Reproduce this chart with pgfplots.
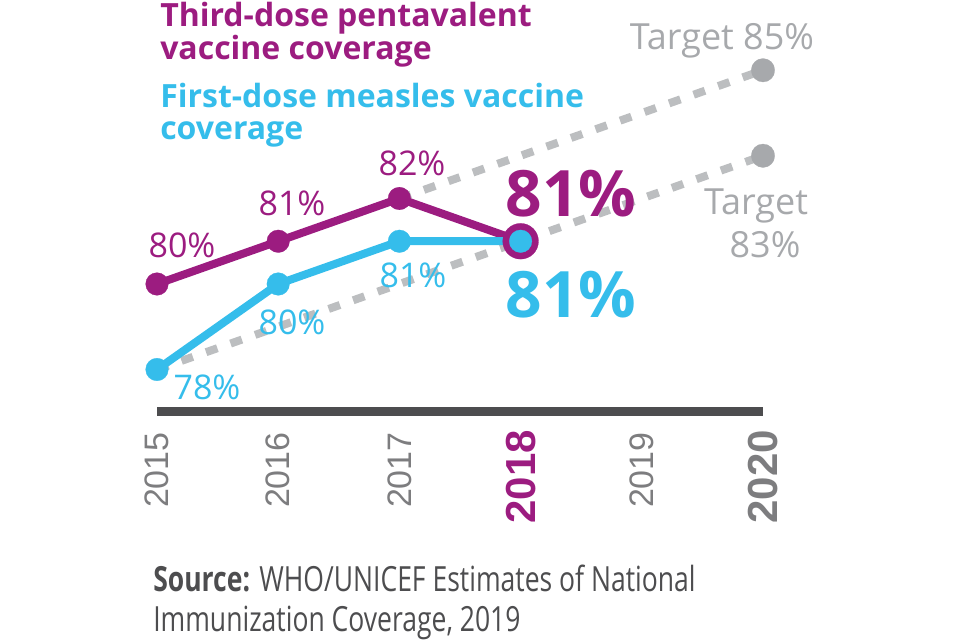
\documentclass[border=0pt]{standalone}
\usepackage{pgfplots}
\pgfplotsset{compat=1.18}
\usepackage{fontspec}
\setmainfont{Open Sans}
\newfontfamily\yearfont{Liberation Sans}
\newfontfamily\condfont[FakeStretch=0.765]{Open Sans}
\definecolor{vpurple}{HTML}{9C1C80}
\definecolor{vblue}{HTML}{35BDEB}
\definecolor{tgrey}{HTML}{A7A9AC}
\definecolor{dgrey}{HTML}{BCBEC0}
\definecolor{agrey}{HTML}{4D4D4F}
\definecolor{ygrey}{HTML}{7D7D7F}
\begin{document}
\begin{tikzpicture}
\begin{axis}[width=720pt,height=480pt,scale only axis,
  xmin=2013.7046,xmax=2021.6254,ymin=71.673,ymax=86.643,
  hide axis, clip=false]
% target dashed lines
\addplot[dgrey, line width=6pt, dash pattern=on 9pt off 10.5pt] coordinates {(2017,82) (2020,85)};
\addplot[dgrey, line width=6pt, dash pattern=on 9pt off 10.5pt] coordinates {(2015,78) (2020,83)};
\addplot[only marks, mark=*, mark size=8.8pt, mark options={solid, draw=tgrey, fill=tgrey, line width=0.2pt}] coordinates {(2020,85) (2020,83)};
% axis line
\draw[agrey, line width=6.75pt] (axis cs:2015,77.029) -- (axis cs:2020,77.029);
% purple series
\addplot[vpurple, line width=6pt, line join=round, mark=*, mark size=8.5pt, mark options={solid, draw=vpurple, fill=vpurple, line width=0.2pt}] coordinates {(2015,80) (2016,81) (2017,82) (2018,81)};
\addplot[only marks, mark=*, mark size=13.4pt, mark options={solid, draw=vpurple, fill=vpurple, line width=0.2pt}] coordinates {(2018,81)};
% blue series
\addplot[vblue, line width=6pt, line join=round, mark=*, mark size=8.5pt, mark options={solid, draw=vblue, fill=vblue, line width=0.2pt}] coordinates {(2015,78) (2016,80) (2017,81) (2018,81)};
% titles
\node[anchor=base west, inner sep=0, text=vpurple, font=\bfseries\fontsize{24}{28}\selectfont] at (rel axis cs:0.16667,0.95781) {Third-dose pentavalent};
\node[anchor=base west, inner sep=0, text=vpurple, font=\bfseries\fontsize{24}{28}\selectfont] at (rel axis cs:0.16667,0.90625) {vaccine coverage};
\node[anchor=base west, inner sep=0, text=vblue, font=\bfseries\fontsize{24}{28}\selectfont] at (rel axis cs:0.16667,0.83125) {First-dose measles vaccine};
\node[anchor=base west, inner sep=0, text=vblue, font=\bfseries\fontsize{24}{28}\selectfont] at (rel axis cs:0.16667,0.78125) {coverage};
% data labels
\tikzset{dl/.style={inner sep=0, font=\fontsize{25.5}{28}\selectfont}}
\node[dl, text=vpurple] at (rel axis cs:0.18958,0.61719) {80\%};
\node[dl, text=vpurple] at (rel axis cs:0.30417,0.68281) {81\%};
\node[dl, text=vpurple] at (rel axis cs:0.42917,0.74531) {82\%};
\node[dl, text=vblue] at (rel axis cs:0.43021,0.57031) {81\%};
\node[dl, text=vblue] at (rel axis cs:0.30417,0.49688) {80\%};
\node[dl, text=vblue] at (rel axis cs:0.21563,0.39531) {78\%};
\node[inner sep=0, text=vpurple, font=\bfseries\fontsize{48}{52}\selectfont] at (rel axis cs:0.59479,0.69688) {81\%};
\node[inner sep=0, text=vblue, font=\bfseries\fontsize{48}{52}\selectfont] at (rel axis cs:0.59479,0.53906) {81\%};
% target labels
\tikzset{tl/.style={anchor=base, inner sep=0, text=tgrey, font=\fontsize{27}{30}\selectfont}}
\node[tl] at (rel axis cs:0.75208,0.92188) {Target 85\%};
\node[tl] at (rel axis cs:0.7875,0.66406) {Target};
\node[tl] at (rel axis cs:0.79688,0.59844) {83\%};
% year labels
\tikzset{yr/.style={rotate=90, anchor=east, inner sep=0, text=ygrey, font=\yearfont\fontsize{25.5}{30}\selectfont},
         yb/.style={rotate=90, anchor=east, inner sep=0, font=\yearfont\bfseries\fontsize{31.5}{34}\selectfont}}
\node[yr] at (axis cs:2015,76.538) {2015};
\node[yr] at (axis cs:2016,76.538) {2016};
\node[yr] at (axis cs:2017,76.538) {2017};
\node[yb, text=vpurple] at (axis cs:2018,76.585) {2018};
\node[yr] at (axis cs:2019,76.538) {2019};
\node[yb, text=ygrey] at (axis cs:2020,76.585) {2020};
% source
\node[anchor=base west, inner sep=0, text=agrey, font=\condfont\fontsize{26}{30}\selectfont] at (rel axis cs:0.159375,0.07656) {\textbf{Source:} WHO/UNICEF Estimates of National};
\node[anchor=base west, inner sep=0, text=agrey, font=\condfont\fontsize{26}{30}\selectfont] at (rel axis cs:0.159375,0.01406) {Immunization Coverage, 2019};
\end{axis}
\pgfresetboundingbox
\path (current axis.south west) rectangle (current axis.north east);
\end{tikzpicture}
\end{document}
